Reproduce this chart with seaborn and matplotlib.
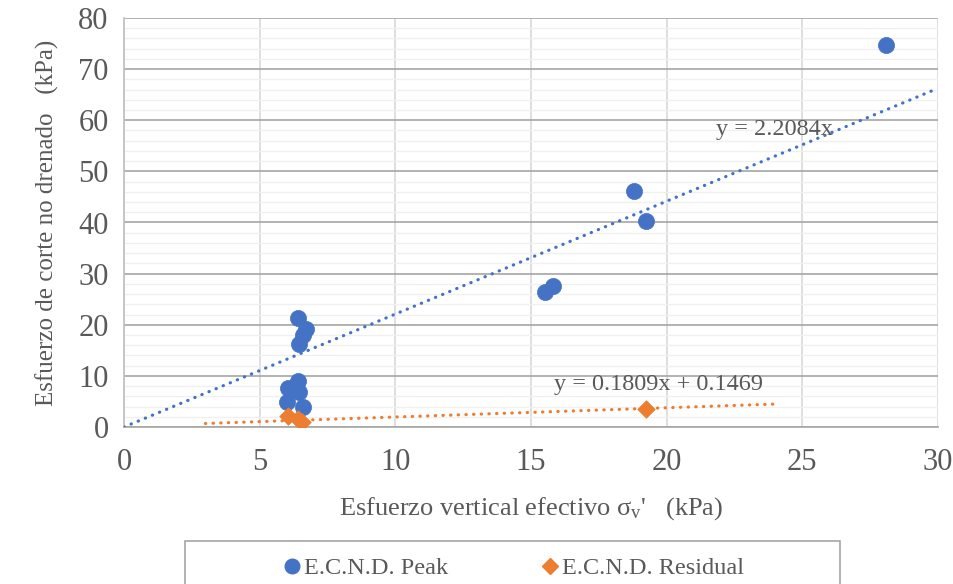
import matplotlib
matplotlib.use("Agg")
import matplotlib.pyplot as plt
from matplotlib.patches import Rectangle
from matplotlib.ticker import MultipleLocator
from matplotlib.lines import Line2D
import numpy as np
import pandas as pd
import seaborn as sns

# Peak undrained shear strength vs vertical effective stress
peak_x = [28.1, 18.8, 19.25, 15.5, 15.8, 6.4, 6.7, 6.6, 6.45, 6.4, 6.05, 6.45, 6.0, 6.6]
peak_y = [74.8, 46.2, 40.2, 26.4, 27.5, 21.3, 19.2, 18.0, 16.3, 8.9, 7.6, 6.8, 4.9, 4.0]

# Residual undrained shear strength
res_x = [6.05, 6.4, 6.55, 19.25]
res_y = [2.1, 1.5, 1.0, 3.6]

# Linear trendlines (slope, intercept) and their drawn extent
peak_slope, peak_icpt = 2.2084, 0.0
res_slope, res_icpt = 0.1809, 0.1469
peak_fit_x = [0.0, 30.0]
res_fit_x = [3.0, 24.1]

series_names = ["E.C.N.D. Peak", "E.C.N.D. Residual"]
x_ticks = [0, 5, 10, 15, 20, 25, 30]
y_ticks = [0, 10, 20, 30, 40, 50, 60, 70, 80]

BLUE = "#4472C4"
ORANGE = "#ED7D31"
TXT = "#595959"

sns.set_style("white")
plt.rcParams["font.family"] = ["Liberation Serif", "DejaVu Serif"]
plt.rcParams["mathtext.fontset"] = "custom"
plt.rcParams["mathtext.rm"] = "Liberation Serif"
plt.rcParams["mathtext.it"] = "Liberation Serif"

fig = plt.figure(figsize=(9.54, 5.84), dpi=100)
ax = fig.add_axes([124 / 954, 1 - 427 / 584, 814 / 954, 409 / 584])

peak_df = pd.DataFrame({"x": peak_x, "y": peak_y})
res_df = pd.DataFrame({"x": res_x, "y": res_y})
peak_fit = pd.DataFrame({"x": peak_fit_x,
                         "y": [peak_slope * v + peak_icpt for v in peak_fit_x]})
res_fit = pd.DataFrame({"x": res_fit_x,
                        "y": [res_slope * v + res_icpt for v in res_fit_x]})

dot = (0, (0.1, 2.3))
sns.lineplot(data=peak_fit, x="x", y="y", ax=ax, color=BLUE, lw=2.3,
             linestyle=dot, dash_capstyle="round", zorder=3)
sns.lineplot(data=res_fit, x="x", y="y", ax=ax, color=ORANGE, lw=2.3,
             linestyle=dot, dash_capstyle="round", zorder=3)

sns.scatterplot(data=peak_df, x="x", y="y", ax=ax, color=BLUE, marker="o",
                s=135, edgecolor=BLUE, linewidth=0.5, zorder=4)
sns.scatterplot(data=res_df, x="x", y="y", ax=ax, color=ORANGE, marker="D",
                s=80, edgecolor=ORANGE, linewidth=0.5, zorder=4)

ax.set_xlim(0, 30)
ax.set_ylim(0, 80)
ax.set_xticks(x_ticks)
ax.set_yticks(y_ticks)
ax.yaxis.set_minor_locator(MultipleLocator(2))

ax.grid(False)
ax.set_axisbelow(True)
ax.yaxis.grid(True, which="minor", color="#f0f0f0", lw=1.0)
ax.yaxis.grid(True, which="major", color="#a6a6a6", lw=1.2)
ax.xaxis.grid(True, which="major", color="#d9d9d9", lw=1.2)

for side in ["top", "right"]:
    ax.spines[side].set_visible(False)
ax.spines["left"].set_color("#bfbfbf")
ax.spines["bottom"].set_color("#a6a6a6")
ax.spines["left"].set_linewidth(1.2)
ax.spines["bottom"].set_linewidth(1.2)

ax.tick_params(axis="both", which="both", length=0, labelsize=22, labelcolor=TXT)
ax.tick_params(axis="y", pad=11)
ax.tick_params(axis="x", pad=15)

ax.set_xlabel(r"Esfuerzo vertical efectivo σ$_\mathrm{v}$'   (kPa)",
              fontsize=19, color=TXT, labelpad=13)
ax.set_ylabel("Esfuerzo de corte no drenado   (kPa)",
              fontsize=18, color=TXT, labelpad=14)

ax.text(21.8, 58.2, f"y = {peak_slope}x", fontsize=17.5, color=TXT,
        va="center", ha="left", zorder=5)
ax.text(15.85, 8.3, f"y = {res_slope}x + {res_icpt}", fontsize=17.5, color=TXT,
        va="center", ha="left", zorder=5)

# Legend box along the bottom edge
fig.patches.append(Rectangle((185 / 954, -0.05), (840 - 185) / 954,
                             0.05 + (584 - 541) / 584,
                             transform=fig.transFigure, fill=False,
                             edgecolor="#a6a6a6", lw=1.2, clip_on=False))
handles = [
    Line2D([], [], ls="none", marker="o", color=BLUE, markersize=10.5),
    Line2D([], [], ls="none", marker="D", color=ORANGE, markersize=8.5),
]
leg = fig.legend(handles, series_names, loc="center",
                 bbox_to_anchor=(512 / 954, 1 - 568 / 584), ncol=2,
                 frameon=False, fontsize=17.5, handletextpad=0.0,
                 handlelength=1.0, columnspacing=3.7, labelcolor=TXT)

fig.savefig("out.png", dpi=100)
